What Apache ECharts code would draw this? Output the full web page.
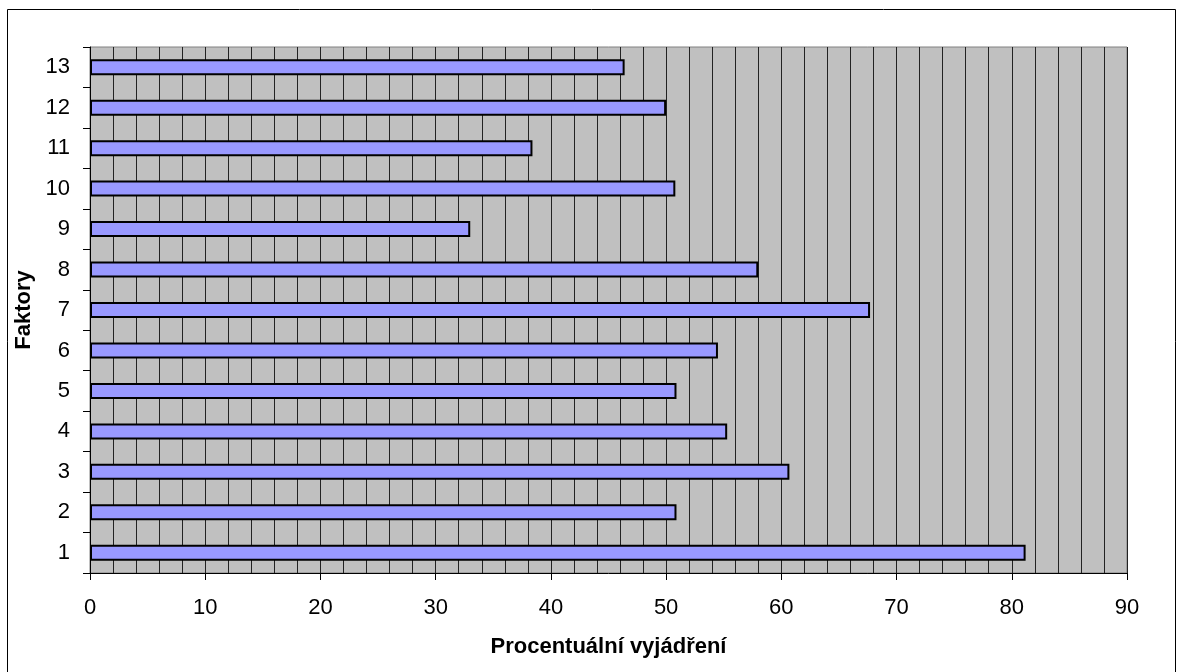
<!DOCTYPE html>
<html>
<head>
<meta charset="utf-8">
<script src="https://cdn.jsdelivr.net/npm/echarts@6/dist/echarts.min.js"></script>
<style>
html,body{margin:0;padding:0;background:#fff;}
#chart{width:1183px;height:672px;}
</style>
</head>
<body>
<div id="chart"></div>
<script>
const categories = ['1','2','3','4','5','6','7','8','9','10','11','12','13'];
const values = [81.2, 50.9, 60.7, 55.3, 50.9, 54.5, 67.7, 58.0, 33.0, 50.8, 38.4, 50.0, 46.4];
const xTicks = [0, 10, 20, 30, 40, 50, 60, 70, 80, 90];
const xAxisTitle = 'Procentuální vyjádření';
const yAxisTitle = 'Faktory';

const chart = echarts.init(document.getElementById('chart'), null, {renderer: 'canvas'});
const font = 'Arial, "Liberation Sans", sans-serif';
chart.setOption({
  animation: false,
  backgroundColor: '#ffffff',
  graphic: [{
    type: 'rect',
    shape: {x: 7.5, y: 9.5, width: 1168, height: 700},
    style: {fill: 'none', stroke: '#000', lineWidth: 1},
    silent: true
  }],
  grid: {
    left: 90, right: 56, top: 47, bottom: 99,
    show: true, backgroundColor: '#C0C0C0', borderColor: '#808080', borderWidth: 1
  },
  xAxis: {
    type: 'value',
    min: xTicks[0], max: xTicks[xTicks.length - 1], interval: 10,
    name: xAxisTitle, nameLocation: 'middle', nameGap: 63,
    nameTextStyle: {fontFamily: font, fontSize: 22, fontWeight: 'bold', color: '#000'},
    axisLine: {show: true, lineStyle: {color: '#000', width: 1}},
    axisTick: {show: true, length: 7, lineStyle: {color: '#000'}},
    axisLabel: {fontFamily: font, fontSize: 22, color: '#000', margin: 24},
    splitLine: {show: true, lineStyle: {color: '#222', width: 1}},
    minorTick: {show: false, splitNumber: 5},
    minorSplitLine: {show: true, lineStyle: {color: '#222', width: 1}}
  },
  yAxis: {
    type: 'category',
    data: categories,
    name: yAxisTitle, nameLocation: 'middle', nameGap: 51, nameRotate: 90,
    nameTextStyle: {fontFamily: font, fontSize: 22, fontWeight: 'bold', color: '#000'},
    axisLine: {show: true, lineStyle: {color: '#000', width: 1}},
    axisTick: {show: true, length: 7, lineStyle: {color: '#000'}},
    axisLabel: {fontFamily: font, fontSize: 22, color: '#000', margin: 20},
    splitLine: {show: false}
  },
  series: [{
    type: 'bar',
    data: values,
    barWidth: 16,
    itemStyle: {color: '#9999FF', borderColor: '#000', borderWidth: 2}
  }]
});
</script>
</body>
</html>
